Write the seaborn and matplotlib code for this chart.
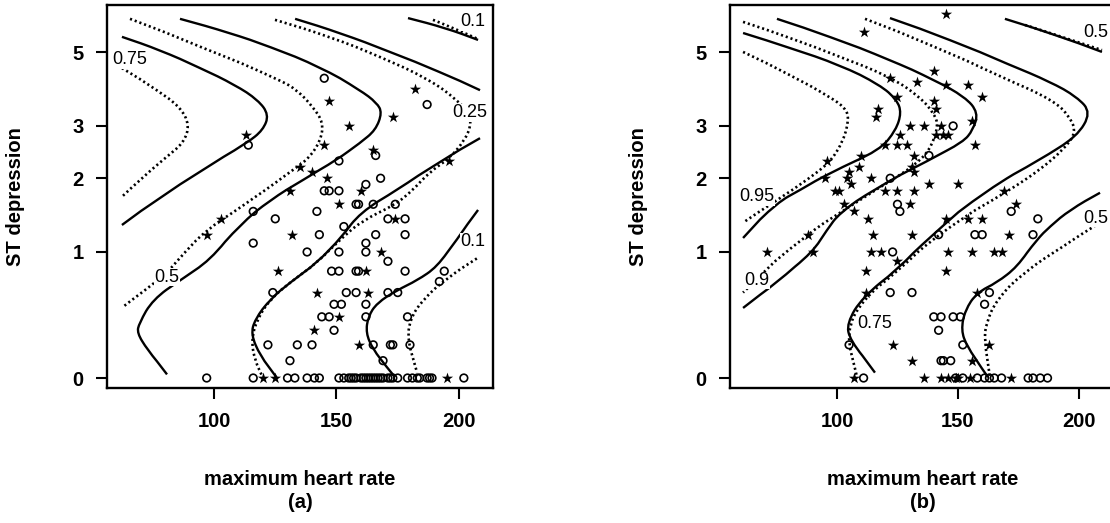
import numpy as np
import pandas as pd
import matplotlib
matplotlib.use("Agg")
import matplotlib.pyplot as plt
from matplotlib.path import Path
from matplotlib.patches import PathPatch
import seaborn as sns

# ---- panel (a) observations: maximum heart rate vs ST depression ----
a_circle_hr = [114, 145, 187, 151, 166, 168, 162, 145, 147, 151, 116, 125, 116, 124, 122,
               97, 116, 158, 159, 165, 174, 142, 153, 171, 178, 143, 166, 178, 162, 162,
               138, 151, 171, 148, 151, 158, 159, 178, 194, 154, 158, 171, 175, 192, 162,
               149, 152, 144, 147, 149, 162, 179, 134, 140, 173, 172, 165, 180, 131, 169,
               130, 133, 138, 141, 143, 151, 153, 155, 156, 157, 158, 160, 161, 162, 163,
               164, 165, 166, 167, 168, 169, 171, 172, 173, 175, 179, 181, 183, 184, 187,
               188, 189, 202]
a_circle_st = [2.6, 4.2, 3.5, 2.3, 2.4, 2.0, 1.9, 1.8, 1.8, 1.8, 1.5, 1.4, 1.1, 0.6, 0.2,
               0, 0, 1.6, 1.6, 1.6, 1.6, 1.5, 1.3, 1.4, 1.4, 1.2, 1.2, 1.2, 1.1, 1.0,
               1.0, 1.0, 0.9, 0.8, 0.8, 0.8, 0.8, 0.8, 0.8, 0.6, 0.6, 0.6, 0.6, 0.7, 0.5,
               0.5, 0.5, 0.4, 0.4, 0.3, 0.4, 0.4, 0.2, 0.2, 0.2, 0.2, 0.2, 0.2, 0.1, 0.1,
               0, 0, 0, 0, 0, 0, 0, 0, 0, 0, 0, 0, 0, 0, 0,
               0, 0, 0, 0, 0, 0, 0, 0, 0, 0, 0, 0, 0, 0, 0,
               0, 0, 0]
a_star_hr = [113, 147, 155, 182, 173, 145, 135, 165, 140, 146, 160, 131, 196, 126, 120,
             125, 97, 103, 151, 174, 132, 168, 162, 142, 163, 151, 141, 159, 195]
a_star_st = [2.8, 3.6, 3.0, 3.9, 3.2, 2.6, 2.2, 2.5, 2.1, 2.0, 1.8, 1.8, 2.3, 0.8, 0,
             0, 1.2, 1.4, 1.6, 1.4, 1.2, 1.0, 0.8, 0.6, 0.6, 0.4, 0.3, 0.2, 0]

# ---- panel (b) observations ----
b_circle_hr = [148, 138, 122, 125, 126, 123, 172, 183, 142, 157, 160, 181, 122, 131, 163,
               161, 140, 143, 142, 148, 151, 105, 152, 143, 144, 147, 111,
               149, 152, 158, 161, 163, 165, 168, 179, 181, 184, 187]
b_circle_st = [3.0, 2.4, 2.0, 1.6, 1.5, 1.0, 1.5, 1.4, 1.2, 1.2, 1.2, 1.2, 0.6, 0.6, 0.6,
               0.5, 0.4, 0.4, 0.3, 0.4, 0.4, 0.2, 0.2, 0.1, 0.1, 0.1, 0,
               0, 0, 0, 0, 0, 0, 0, 0, 0, 0, 0]
b_star_hr = [96, 95, 99, 145, 111, 140, 122, 133, 145, 154, 160, 125, 140, 141, 117,
             116, 156, 130, 136, 143, 126, 141, 144, 146, 125, 129, 157, 120, 110, 132,
             109, 105, 104, 131, 132, 114, 106, 138, 150, 120, 125, 132, 169, 71, 88,
             90, 101, 103, 107, 113, 115, 112, 112, 130, 131, 114, 118, 125, 145, 154,
             160, 174, 171, 146, 156, 165, 168, 145, 158, 123, 163, 131, 156, 107,
             136, 143, 146, 149, 150, 155, 172]
b_star_st = [2.3, 2.0, 1.8, 6.4, 5.7, 4.4, 4.2, 4.1, 4.0, 4.0, 3.7, 3.7, 3.6, 3.4, 3.4,
             3.2, 3.1, 3.0, 3.0, 3.0, 2.8, 2.8, 2.8, 2.8, 2.6, 2.6, 2.6, 2.6, 2.4, 2.4,
             2.2, 2.1, 2.0, 2.2, 2.1, 2.0, 1.9, 1.9, 1.9, 1.8, 1.8, 1.8, 1.8, 1.0, 1.2,
             1.0, 1.8, 1.6, 1.5, 1.4, 1.2, 0.8, 0.6, 1.6, 1.2, 1.0, 1.0, 0.9, 1.4, 1.4,
             1.4, 1.6, 1.2, 1.0, 1.0, 1.0, 1.0, 0.8, 0.6, 0.2, 0.2, 0.1, 0.1, 0,
             0, 0, 0, 0, 0, 0, 0]

# ---- probability contours, (heart rate, ST depression) ----
a_075_solid = [(62.4, 5.53), (77.9, 5.07), (94.3, 4.50), (108.6, 4.01), (118.0, 3.61),
               (122.4, 3.25), (120.0, 2.91), (113.5, 2.64), (94.3, 2.11), (77.9, 1.69),
               (62.4, 1.32)]
a_075_dotted = [(62.4, 4.50), (76.7, 3.87), (86.1, 3.44), (90.0, 3.02), (87.6, 2.64),
                (79.2, 2.32), (69.8, 1.97), (62.4, 1.71)]
a_050_solid = [(86.1, 6.21), (106.5, 5.67), (122.9, 5.18), (143.3, 4.53), (159.6, 3.87),
               (166.5, 3.54), (168.6, 3.30), (166.0, 2.91), (159.6, 2.64), (150.2, 2.32),
               (136.3, 1.97), (122.9, 1.66), (110.6, 1.32), (98.4, 0.91), (86.1, 0.71),
               (75.1, 0.54), (69.4, 0.35), (68.6, 0.28), (72.7, 0.17), (80.8, 0.02)]
a_050_dotted = [(65.7, 6.21), (94.3, 5.18), (126.9, 4.15), (133.9, 3.87), (140.4, 3.44),
                (144.6, 3.07), (143.6, 2.70), (139.2, 2.37), (133.9, 2.19), (122.9, 1.86),
                (109.4, 1.52), (97.1, 1.26), (88.2, 1.00), (80.8, 0.78), (71.8, 0.62),
                (62.9, 0.48)]
a_025_solid_top = [(133.1, 6.21), (151.4, 5.67), (171.8, 5.01), (192.2, 4.38), (208.6, 3.87)]
a_025_solid_low = [(208.6, 2.74), (192.2, 2.28), (174.7, 1.81), (159.6, 1.48), (152.2, 1.17),
                   (142.0, 0.88), (131.0, 0.69), (122.9, 0.54), (116.7, 0.38), (115.1, 0.27),
                   (118.8, 0.13), (125.7, 0.0)]
a_025_dotted = [(124.9, 6.17), (147.3, 5.53), (167.8, 4.85), (188.2, 4.15), (199.2, 3.61),
                (204.0, 3.30), (205.0, 3.02), (202.4, 2.70), (196.3, 2.35), (188.2, 2.11),
                (181.2, 1.81), (173.9, 1.59), (160.8, 1.38), (152.2, 1.16), (142.0, 0.88),
                (131.0, 0.69), (122.9, 0.54), (117.6, 0.38), (115.2, 0.23), (116.7, 0.10),
                (120.0, 0.0)]
a_010_solid_top = [(179.2, 6.24), (194.3, 5.86), (207.8, 5.42)]
a_010_dotted_top = [(189.4, 6.17), (198.4, 5.82), (207.8, 5.45)]
a_010_solid_low = [(207.8, 1.52), (199.2, 1.14), (191.0, 0.84), (182.9, 0.71), (174.7, 0.62),
                   (166.5, 0.51), (162.9, 0.40), (162.0, 0.28), (164.9, 0.17), (170.6, 0.06),
                   (173.9, 0.005)]
a_010_dotted_low = [(207.3, 0.93), (195.1, 0.73), (185.3, 0.54), (180.0, 0.38), (179.0, 0.23),
                    (182.9, 0.03)]

b_095_solid = [(61.2, 5.67), (80.6, 5.14), (101.2, 4.59), (117.8, 4.01), (124.8, 3.61),
               (126.6, 3.30), (124.4, 2.91), (117.8, 2.50), (97.1, 2.09), (84.7, 1.81),
               (75.2, 1.62), (61.2, 1.16)]
b_095_dotted = [(61.2, 5.01), (80.6, 4.29), (97.1, 3.69), (103.3, 3.42), (105.0, 3.17),
                (102.8, 2.70), (97.1, 2.26), (84.7, 1.89), (73.6, 1.62), (61.2, 1.35)]
b_090_solid = [(75.2, 6.21), (97.1, 5.53), (121.9, 4.75), (140.1, 4.15), (152.9, 3.69),
               (158.4, 3.30), (156.2, 2.91), (152.1, 2.66), (138.4, 2.32), (114.9, 1.81),
               (101.2, 1.48), (95.9, 1.26), (90.1, 1.00), (75.2, 0.69), (61.2, 0.47)]
b_090_dotted = [(61.2, 6.09), (80.6, 5.49), (101.2, 4.85), (121.9, 4.24), (134.3, 3.69),
                (140.5, 3.25), (141.8, 2.98), (138.4, 2.50), (132.2, 2.23), (124.8, 2.02),
                (109.5, 1.66), (101.2, 1.48), (87.6, 1.20), (61.2, 0.60)]
b_075_solid = [(121.9, 6.24), (146.7, 5.42), (171.5, 4.59), (188.0, 4.10), (199.2, 3.69),
               (205.0, 3.30), (199.2, 2.77), (183.9, 2.32), (162.0, 1.81), (138.4, 1.17),
               (124.8, 0.81), (110.7, 0.56), (104.0, 0.35), (105.4, 0.23), (115.7, 0.03)]
b_075_dotted = [(111.6, 6.21), (138.4, 5.25), (168.6, 4.21), (189.3, 3.61), (196.3, 3.20),
                (198.8, 2.85), (193.4, 2.50), (183.9, 2.14), (171.5, 1.81), (142.6, 1.22),
                (124.8, 0.79), (110.7, 0.54), (103.6, 0.28), (108.3, 0.005)]
b_050_solid_top = [(169.4, 6.21), (190.1, 5.60), (209.5, 5.01)]
b_050_dotted_top = [(177.7, 5.97), (194.2, 5.49), (209.5, 5.07)]
b_050_solid_low = [(208.7, 1.77), (196.3, 1.52), (188.0, 1.30), (182.6, 1.14), (174.4, 0.84),
                   (166.1, 0.69), (157.9, 0.60), (152.9, 0.45), (151.3, 0.30), (153.7, 0.19),
                   (160.3, 0.045), (162.4, 0.005)]
b_050_dotted_low = [(208.7, 1.35), (193.4, 1.06), (176.9, 0.78), (166.1, 0.54), (161.6, 0.35),
                    (160.9, 0.23), (163.2, 0.005)]

# contour labels: (text, heart rate, ST depression, alignment)
a_labels = [("0.75", 65.7, 4.75, "center"), ("0.5", 80.8, 0.74, "center"),
            ("0.25", 204.6, 3.30, "center"), ("0.1", 205.8, 6.09, "center"),
            ("0.1", 205.6, 1.12, "center")]
b_labels = [("0.95", 66.9, 1.71, "center"), ("0.9", 66.9, 0.71, "center"),
            ("0.75", 115.7, 0.35, "center"), ("0.5", 201.6, 5.67, "left"),
            ("0.5", 201.6, 1.41, "left")]

x_ticks = [100, 150, 200]
y_ticks = [0, 1, 2, 3, 5]

sns.set_theme(style="ticks")
plt.rcParams["font.family"] = ["Liberation Sans", "DejaVu Sans"]
for key in ["text.color", "axes.labelcolor", "xtick.color", "ytick.color", "axes.edgecolor"]:
    plt.rcParams[key] = "black"


def smooth_curve(ax, pts, **kw):
    # quadratic bezier through the read points, drawn in data coordinates
    df = pd.DataFrame(pts, columns=["hr", "st"])
    p = df[["hr", "st"]].to_numpy()
    verts = [p[0], (p[0] + p[1]) / 2]
    codes = [Path.MOVETO, Path.LINETO]
    for i in range(1, len(p) - 1):
        verts += [p[i], (p[i] + p[i + 1]) / 2]
        codes += [Path.CURVE3, Path.CURVE3]
    verts.append(p[-1])
    codes.append(Path.LINETO)
    ax.add_patch(PathPatch(Path(np.array(verts), codes), fill=False, ec="black",
                           capstyle="butt", **kw))


def draw_panel(ax, circ_hr, circ_st, star_hr, star_st, solids, dotteds, labels, xlim, tag):
    ax.set_yscale("function", functions=(np.log1p, np.expm1))
    for pts in solids:
        smooth_curve(ax, pts, lw=1.7)
    for pts in dotteds:
        smooth_curve(ax, pts, lw=1.9, linestyle=(0, (0.8, 1.1)))

    sns.scatterplot(x=circ_hr, y=circ_st, marker="o", s=30, facecolors="none",
                    edgecolors="black", linewidth=1.2, ax=ax, zorder=3)
    sns.scatterplot(x=star_hr, y=star_st, marker="*", s=72, color="black",
                    linewidth=0, ax=ax, zorder=3)

    for txt, hx, sy, ha in labels:
        ax.text(hx, sy, txt, fontsize=13, ha=ha, va="center", zorder=4,
                bbox=dict(fc="white", ec="none", pad=0.3))

    ax.set_xlim(*xlim)
    ax.set_ylim(-0.0535, 6.78)
    ax.set_xticks(x_ticks)
    ax.set_yticks(y_ticks)
    ax.set_yticklabels([str(t) for t in y_ticks])
    ax.minorticks_off()
    ax.tick_params(direction="out", length=8, width=1.5, labelsize=14.5, pad=9,
                   top=False, right=False, colors="black")
    for lab in ax.get_xticklabels() + ax.get_yticklabels():
        lab.set_fontweight("bold")
    for sp in ax.spines.values():
        sp.set_linewidth(1.7)
        sp.set_color("black")

    ax.set_xlabel("maximum heart rate\n" + tag, fontsize=14.5, fontweight="bold",
                  linespacing=1.25, va="top")
    ax.xaxis.set_label_coords(0.5, -0.215)
    ax.set_ylabel("ST depression", fontsize=14.5, fontweight="bold")
    ax.yaxis.set_label_coords(-0.212, 0.5)


fig = plt.figure(figsize=(11.1, 5.23), dpi=100)
ax_a = fig.add_axes([107 / 1110, 1 - 388 / 523, 386 / 1110, 383 / 523])
ax_b = fig.add_axes([730 / 1110, 1 - 388 / 523, 386 / 1110, 383 / 523])

draw_panel(ax_a, a_circle_hr, a_circle_st, a_star_hr, a_star_st,
           [a_075_solid, a_050_solid, a_025_solid_top, a_025_solid_low,
            a_010_solid_top, a_010_solid_low],
           [a_075_dotted, a_050_dotted, a_025_dotted, a_010_dotted_top, a_010_dotted_low],
           a_labels, (56.3, 213.9), "(a)")
draw_panel(ax_b, b_circle_hr, b_circle_st, b_star_hr, b_star_st,
           [b_095_solid, b_090_solid, b_075_solid, b_050_solid_top, b_050_solid_low],
           [b_095_dotted, b_090_dotted, b_075_dotted, b_050_dotted_top, b_050_dotted_low],
           b_labels, (55.8, 215.3), "(b)")

fig.savefig("out.png", dpi=100)
